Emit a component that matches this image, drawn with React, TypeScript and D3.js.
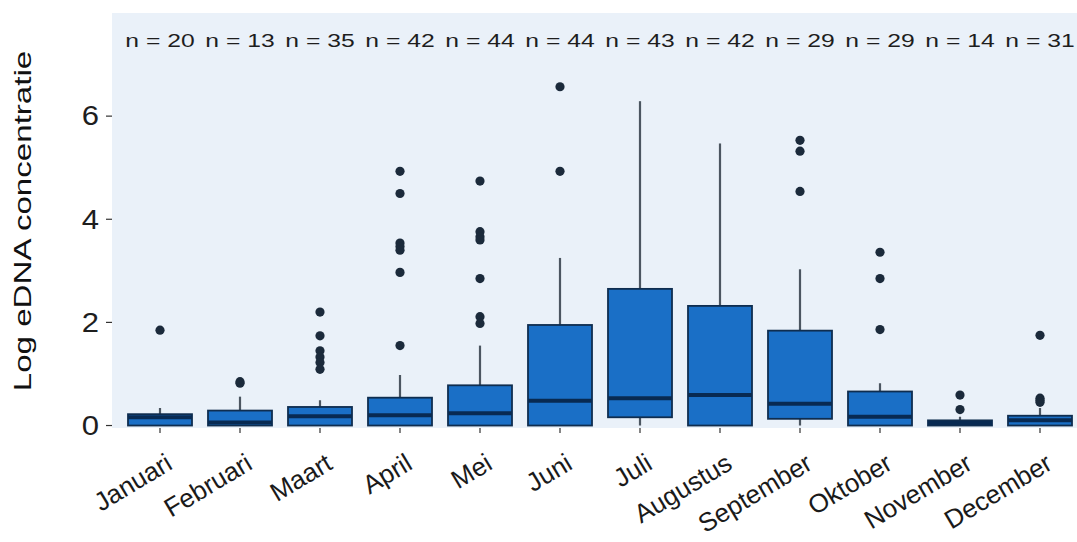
import React from 'react'
import * as d3 from 'd3'

// maandelijkse eDNA boxplots
const months = ['Januari', 'Februari', 'Maart', 'April', 'Mei', 'Juni', 'Juli', 'Augustus', 'September', 'Oktober', 'November', 'December']
const nCounts = [20, 13, 35, 42, 44, 44, 43, 42, 29, 29, 14, 31]
const q1 = [0, 0, 0, 0, 0, 0, 0.16, 0, 0.13, 0, 0, 0]
const medians = [0.16, 0.06, 0.18, 0.2, 0.24, 0.48, 0.53, 0.59, 0.42, 0.17, 0.05, 0.1]
const q3 = [0.22, 0.29, 0.36, 0.54, 0.78, 1.95, 2.65, 2.32, 1.84, 0.66, 0.1, 0.19]
const whiskerLow = [0, 0, 0, 0, 0, 0, 0, 0, 0, 0, 0, 0]
const whiskerHigh = [0.34, 0.56, 0.49, 0.98, 1.55, 3.25, 6.29, 5.47, 3.03, 0.82, 0.17, 0.34]
const outliers = [
  [1.85],
  [0.85, 0.82],
  [2.2, 1.74, 1.45, 1.33, 1.22, 1.09],
  [4.93, 4.5, 3.54, 3.47, 3.4, 2.97, 1.55],
  [4.74, 3.76, 3.66, 3.6, 2.85, 2.11, 1.98],
  [6.57, 4.93],
  [],
  [],
  [5.53, 5.32, 4.54],
  [3.36, 2.85, 1.86],
  [0.59, 0.31],
  [1.75, 0.53, 0.49, 0.45],
]
const yTicks = [0, 2, 4, 6]
const nLabelY = 7.47

const W = 1077
const H = 542
const panel = {left: 112, right: 1088, top: 13, bottom: 428}
const font = '"Liberation Sans", Arial, sans-serif'

const App = () => {
  const x = d3.scaleBand<string>().domain(months).range([120, 1080]).padding(0)
  const y = d3.scaleLinear().domain([-0.048, 8.0]).range([panel.bottom, panel.top])
  const bw = x.bandwidth() * 0.8

  return (
    <svg width={W} height={H} style={{position: 'absolute', left: 0, top: 0}} fontFamily={font}>
      <rect x={0} y={0} width={W} height={H} fill="#ffffff" />
      <rect x={panel.left} y={panel.top} width={panel.right - panel.left} height={panel.bottom - panel.top} fill="#eaf1f9" />

      {/* y as */}
      {yTicks.map(t => (
        <g key={t}>
          <line x1={panel.left - 6} x2={panel.left} y1={y(t)} y2={y(t)} stroke="#333" strokeWidth={1.2} />
          <text transform={`translate(${panel.left - 13},${y(t)}) scale(1.15,1)`} textAnchor="end" dominantBaseline="central" fontSize={27} fill="#1e1e1e">{t}</text>
        </g>
      ))}
      <text transform={`translate(31,221) rotate(-90) scale(1.44,1)`} textAnchor="middle" fontSize={23} fill="#111">Log eDNA concentratie</text>

      {months.map((m, i) => {
        const cx = x(m)! + x.bandwidth() / 2
        return (
          <g key={m}>
            {/* x tick */}
            <line x1={cx} x2={cx} y1={panel.bottom} y2={panel.bottom + 5} stroke="#333" strokeWidth={1.2} />
            {/* whiskers */}
            <line x1={cx} x2={cx} y1={y(q3[i])} y2={y(whiskerHigh[i])} stroke="#4c5661" strokeWidth={2.2} />
            <line x1={cx} x2={cx} y1={y(q1[i])} y2={y(whiskerLow[i])} stroke="#4c5661" strokeWidth={2.2} />
            <rect x={cx - bw / 2} y={y(q3[i])} width={bw} height={Math.max(y(q1[i]) - y(q3[i]), 1)} fill="#1a6fc6" stroke="#0f2d4f" strokeWidth={1.8} />
            <line x1={cx - bw / 2} x2={cx + bw / 2} y1={y(medians[i])} y2={y(medians[i])} stroke="#082a52" strokeWidth={4} />
            {outliers[i].map((o, j) => (
              <circle key={j} cx={cx} cy={y(o)} r={4.6} fill="#1b2a3b" />
            ))}
            <text transform={`translate(${cx},${y(nLabelY)}) scale(1.3,1)`} textAnchor="middle" dominantBaseline="central" fontSize={19} fill="#1e1e1e">{`n = ${nCounts[i]}`}</text>
            <text transform={`translate(${cx + 14},${panel.bottom + 40}) rotate(-31)`} textAnchor="end" fontSize={26} fill="#1a1a1a">{m}</text>
          </g>
        )
      })}
    </svg>
  )
}

export default App
